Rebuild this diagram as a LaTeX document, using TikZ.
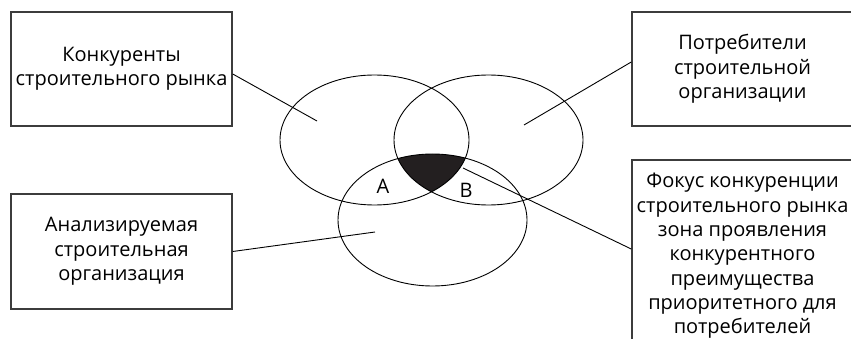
\documentclass[tikz,border=0pt]{standalone}
\usepackage{fontspec}
\setmainfont{Open Sans}
\usepackage{xcolor}
\usepackage{tikz}
\usetikzlibrary{positioning}

\definecolor{ramka}{HTML}{3C3C3C}
\definecolor{fokus}{HTML}{231F20}

\tikzset{
  blok/.style={draw=ramka, line width=1.5pt, minimum width=221pt, align=center,
    inner sep=0pt, font=\fontsize{20}{24.3}\selectfont},
  oval/.style={black, line width=0.9pt},
  vynoska/.style={black, line width=0.9pt},
  metka/.style={font=\fontsize{20}{24}\selectfont, inner sep=0pt}
}

\begin{document}
\begin{tikzpicture}[x=1pt, y=-1pt]
  \useasboundingbox (0,0) rectangle (851,339);
  \clip (0,0) rectangle (851,339);

  % Фокус конкуренции (пересечение трёх эллипсов)
  \begin{scope}
    \clip (374.5,140) ellipse [x radius=94.5, y radius=65];
    \clip (488.5,140) ellipse [x radius=94.5, y radius=65];
    \fill[fokus] (432.5,220) ellipse [x radius=94.5, y radius=66];
  \end{scope}

  % Эллипсы
  \draw[oval] (374.5,140) ellipse [x radius=94.5, y radius=65];
  \draw[oval] (488.5,140) ellipse [x radius=94.5, y radius=65];
  \draw[oval] (432.5,220) ellipse [x radius=94.5, y radius=66];

  \node[metka] (zonaA) at (383,186) {A};
  \node[metka] (zonaB) at (466,190) {B};

  % Подписи
  \node[blok, minimum height=114pt] (konk) at (121.5,69)
    {Конкуренты\\строительного рынка};
  \node[blok, minimum height=114pt] (potr) at (742.5,69)
    {Потребители\\строительной\\организации};
  \node[blok, minimum height=115pt] (anal) at (121.5,251.5)
    {Анализируемая\\строительная\\организация};
  \node[blok, minimum height=192pt] (fokusT) at (742.5,256)
    {Фокус конкуренции\\строительного рынка\\зона проявления\\конкурентного\\преимущества\\приоритетного для\\потребителей};

  % Выноски
  \coordinate (konkIn) at (317,121);
  \coordinate (potrIn) at (524,125);
  \coordinate (analIn) at (375,232);
  \coordinate (fokusIn) at (463,168);
  \draw[vynoska] ([yshift=-5pt]konk.east) -- (konkIn);
  \draw[vynoska] ([yshift=7pt]potr.west) -- (potrIn);
  \draw[vynoska] (anal.east) -- (analIn);
  \draw[vynoska] ([yshift=7pt]fokusT.west) -- (fokusIn);
\end{tikzpicture}
\end{document}
